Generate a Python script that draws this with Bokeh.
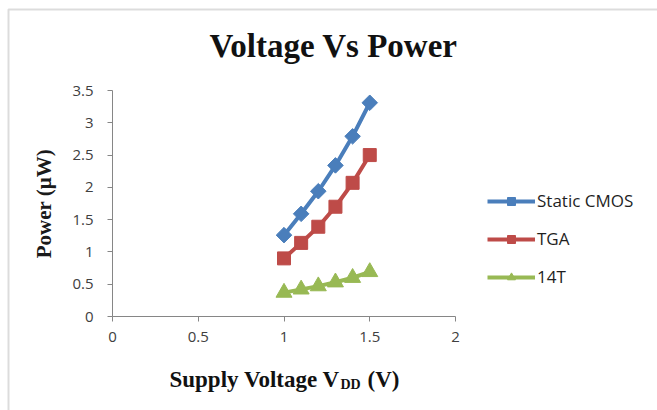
import numpy as np
from bokeh.plotting import figure
from bokeh.models import (Range1d, Legend, LegendItem, Label, BoxAnnotation,
                          FixedTicker, LinearAxis)
from bokeh.embed import file_html
from bokeh.resources import INLINE

# ---- data ----
vdd = [1.0, 1.1, 1.2, 1.3, 1.4, 1.5]
static_cmos = [1.26, 1.59, 1.94, 2.34, 2.79, 3.31]
tga = [0.90, 1.14, 1.39, 1.70, 2.07, 2.50]
t14 = [0.37, 0.42, 0.47, 0.53, 0.60, 0.69]
x_ticks = [0, 0.5, 1, 1.5, 2]
y_ticks = [0, 0.5, 1, 1.5, 2, 2.5, 3, 3.5]
series_names = ["Static CMOS", "TGA", "14T"]
title_text = "Voltage Vs Power"
y_label = "Power (µW)"

W, H = 657, 410
# pixel positions of the axis box (from top-left of the page)
FL, FR, FT, FB = 112, 455, 90, 316
X0, X1, Y0, Y1 = 0.0, 2.0, 0.0, 3.5
sx = (FR - FL) / (X1 - X0)
sy = (FB - FT) / (Y1 - Y0)

p = figure(width=W, height=H, output_backend="svg", toolbar_location=None,
           x_range=Range1d(X0 - FL / sx, X1 + (W - FR) / sx),
           y_range=Range1d(Y0 - (H - FB) / sy, Y1 + FT / sy),
           x_axis_location=None, y_axis_location=None,
           min_border=0)
p.outline_line_color = None
p.grid.visible = False
p.background_fill_color = "white"
p.border_fill_color = "white"

axis_col = "#868686"
xaxis = LinearAxis(fixed_location=Y0, bounds=(X0, X1), ticker=FixedTicker(ticks=x_ticks))
yaxis = LinearAxis(fixed_location=X0, bounds=(Y0, Y1), ticker=FixedTicker(ticks=y_ticks))
p.add_layout(xaxis, "below")
p.add_layout(yaxis, "left")
for ax in (xaxis, yaxis):
    ax.axis_line_color = axis_col
    ax.axis_line_width = 1
    ax.major_tick_line_color = axis_col
    ax.minor_tick_line_color = None
    ax.major_tick_out = 5
    ax.major_tick_in = 0
    ax.major_label_text_font = "Open Sans"
    ax.major_label_text_font_size = "15px"
    ax.major_label_text_color = "#404040"
xaxis.major_label_overrides = {t: f"{t:g}" for t in x_ticks}
yaxis.major_label_overrides = {t: f"{t:g}" for t in y_ticks}
xaxis.major_label_standoff = 10
yaxis.major_label_standoff = 14

yaxis.axis_label = y_label
yaxis.axis_label_text_font = "Liberation Serif"
yaxis.axis_label_text_font_style = "bold"
yaxis.axis_label_text_font_size = "21px"
yaxis.axis_label_text_color = "#1a1a1a"
yaxis.axis_label_standoff = 13

colors = ["#4A7EBB", "#BE4B48", "#98B954"]
lw = 4
r1l = p.line(vdd, static_cmos, line_color=colors[0], line_width=lw)
r1m = p.scatter(vdd, static_cmos, marker="square", angle=np.pi / 4, size=11,
                fill_color=colors[0], line_color=colors[0])
r2l = p.line(vdd, tga, line_color=colors[1], line_width=lw)
r2m = p.scatter(vdd, tga, marker="square", size=13, fill_color=colors[1], line_color=colors[1])
r3l = p.line(vdd, t14, line_color=colors[2], line_width=lw)
r3m = p.scatter(vdd, t14, marker="triangle", size=16, fill_color=colors[2], line_color=colors[2])

legend = Legend(items=[LegendItem(label=series_names[0], renderers=[r1l, r1m]),
                       LegendItem(label=series_names[1], renderers=[r2l, r2m]),
                       LegendItem(label=series_names[2], renderers=[r3l, r3m])],
                location=(487, H - 288))
legend.border_line_color = None
legend.background_fill_alpha = 0
legend.padding = 0
legend.margin = 0
legend.glyph_width = 48
legend.glyph_height = 20
legend.label_height = 20
legend.spacing = 15
legend.label_standoff = 2
legend.label_text_font = "Open Sans"
legend.label_text_font_size = "17px"
legend.label_text_color = "#1f1f1f"
p.add_layout(legend, "center")

serif = dict(text_font="Liberation Serif", text_font_style="bold", text_color="#111111",
             x_units="screen", y_units="screen", text_baseline="alphabetic")
p.add_layout(Label(x=333, y=H - 45, text=title_text, text_align="center",
                   text_font_size="33px", **serif))
p.add_layout(Label(x=169, y=H - 379, text="Supply Voltage V", text_align="left",
                   text_font_size="23px", **serif))
p.add_layout(Label(x=340, y=H - 384, text="DD", text_align="left",
                   text_font_size="14px", **serif))
p.add_layout(Label(x=367, y=H - 379, text="(V)", text_align="left",
                   text_font_size="23px", **serif))

# chart-area border (top and left edges visible)
p.add_layout(BoxAnnotation(left=8, right=W + 20, top=H - 9, bottom=-20,
                           left_units="screen", right_units="screen",
                           top_units="screen", bottom_units="screen",
                           fill_alpha=0, line_color="#8c8c8c", line_width=2))

open("out.html", "w").write(file_html(p, INLINE))
